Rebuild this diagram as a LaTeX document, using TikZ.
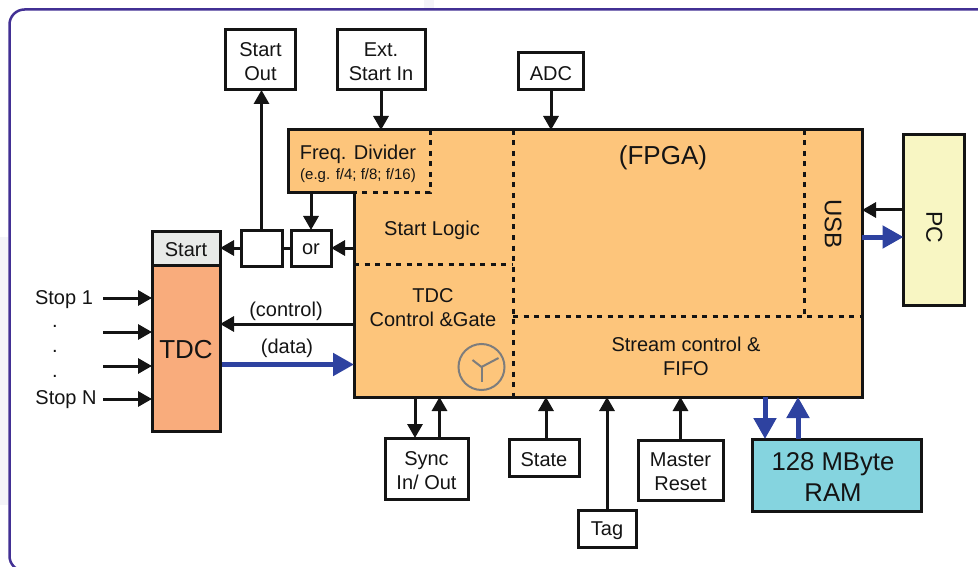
\documentclass[tikz,border=0pt]{standalone}
\usepackage{fontspec}
\setmainfont{Liberation Sans}
\usetikzlibrary{arrows.meta,calc}
\definecolor{frame}{RGB}{66,48,148}
\definecolor{fpgaor}{RGB}{253,197,123}
\definecolor{tdcor}{RGB}{249,172,124}
\definecolor{startgr}{RGB}{232,234,232}
\definecolor{ramcy}{RGB}{133,212,223}
\definecolor{pcye}{RGB}{248,246,195}
\definecolor{arrblue}{RGB}{46,66,160}
\definecolor{ink}{RGB}{20,20,20}
\definecolor{clockgr}{RGB}{125,125,125}
\definecolor{patch}{RGB}{244,244,248}
\newcommand{\fs}[1]{\fontsize{#1}{24}\selectfont}
\tikzset{
  box/.style={draw=ink,line width=3pt,fill=white,outer sep=0pt,inner sep=0pt},
  area/.style={inner sep=0pt,outer sep=0pt},
  lbl/.style={inner sep=0pt,outer sep=0pt,align=center,text=ink,font=\fs{20},yshift=-1.7pt},
  zone/.style={draw=ink,line width=3pt,dash pattern=on 5pt off 5.5pt},
  conn/.style={draw=ink,line width=3pt,-{Triangle[length=14pt,width=15pt]}},
  plain/.style={draw=ink,line width=3pt},
  bus/.style={draw=arrblue,line width=5pt,-{Triangle[length=21pt,width=22pt]}},
}
\begin{document}
\begin{tikzpicture}[x=1pt,y=-1pt]
\useasboundingbox (0,0) rectangle (978,567);
\fill[patch] (424,0) rectangle (434,9);
\fill[patch] (0,237) rectangle (8,505);
\begin{scope}
\clip (0,0) rectangle (978,567);
\draw[frame,line width=2.5pt,rounded corners=15pt] (9.5,9.5) rectangle (1010,571);
\end{scope}

% FPGA body
\draw[fill=fpgaor,draw=ink,line width=3pt,line join=miter]
  (288,130) -- (862,130) -- (862,397) -- (354,397) -- (354,193) -- (288,193) -- cycle;
\node[area,minimum width=508pt,minimum height=267pt] (fpga) at (608,263.5) {};
\node[area,minimum width=66pt,minimum height=63pt] (freqtab) at (321,161.5) {};

% dashed internal borders
\coordinate (d1t) at (430,130); \coordinate (d1b) at (430,193); \coordinate (d1l) at (354,193);
\coordinate (d2l) at (354,264); \coordinate (d2r) at (513,264);
\coordinate (d3t) at (513,130); \coordinate (d3b) at (513,397);
\coordinate (d4t) at (804,130); \coordinate (d4b) at (804,316);
\coordinate (d5l) at (513,316); \coordinate (d5r) at (862,316);
\draw[zone] (d1t) -- (d1b) -- (d1l);
\draw[zone] (d2l) -- (d2r);
\draw[zone] (d3t) -- (d3b);
\draw[zone] (d4t) -- (d4b);
\draw[zone] (d5l) -- (d5r);

% FPGA texts
\node[lbl] (freq) at (358,153) {Freq. Divider};
\node[lbl,font=\fs{15}] (freqsub) at (358,174) {(e.g. f/4; f/8; f/16)};
\node[lbl] (slogic) at (432,229) {Start Logic};
\node[lbl] (tdcctl) at (433,305.5) {TDC\\Control \&Gate};
\node[lbl,font=\fs{26}] (fpgatxt) at (663,156) {(FPGA)};
\node[lbl,rotate=-90,font=\fs{24},yshift=1.7pt] (usb) at (831.5,222) {USB};
\node[lbl] (stream) at (686,355) {Stream control \&\\FIFO};

% clock
\node[draw=clockgr,line width=2pt,circle,minimum size=46pt,inner sep=0pt,outer sep=0pt] (clock) at (481.5,367) {};
\draw[clockgr,line width=2pt] (clock.center) -- ++(-9,-7);
\draw[clockgr,line width=2pt] (clock.center) -- ++(17,-9);
\draw[clockgr,line width=2pt] (clock.center) -- ++(0,15);

% boxes
\node[box,minimum width=70pt,minimum height=60pt] (sout) at (260.5,60) {};
\node[lbl] (soutt) at (sout) {Start\\Out};
\node[box,minimum width=88pt,minimum height=60pt] (ext) at (381,60) {};
\node[lbl] (extt) at (ext) {Ext.\\Start In};
\node[box,minimum width=65pt,minimum height=37pt] (adc) at (551,71.5) {};
\node[lbl] (adct) at (adc) {ADC};
\node[box,minimum width=68pt,minimum height=166pt,fill=tdcor] (tdc) at (186,348) {};
\node[lbl,font=\fs{26}] (tdct) at (tdc) {TDC};
\node[box,minimum width=68pt,minimum height=34pt,fill=startgr] (start) at (186,248) {};
\node[lbl] (startt) at (start) {Start};
\node[box,minimum width=41pt,minimum height=36pt] (blank) at (261.5,248) {};
\node[box,minimum width=40pt,minimum height=36pt] (orb) at (311,248) {};
\node[lbl] (orbt) at (orb) {or};
\node[box,minimum width=83pt,minimum height=61pt] (sync) at (426.5,468.5) {};
\node[lbl] (synct) at (sync) {Sync\\In/ Out};
\node[box,minimum width=70pt,minimum height=37pt] (state) at (544,457.5) {};
\node[lbl] (statet) at (state) {State};
\node[box,minimum width=58pt,minimum height=37pt] (tag) at (607,528.5) {};
\node[lbl] (tagt) at (tag) {Tag};
\node[box,minimum width=85pt,minimum height=60pt] (reset) at (680.5,470) {};
\node[lbl] (resett) at (reset) {Master\\Reset};
\node[box,minimum width=169pt,minimum height=72pt,fill=ramcy] (ram) at (836.5,475) {};
\node[lbl,font=\fontsize{25.7}{31}\selectfont] (ramtxt) at (833,475) {128 MByte\\RAM};
\node[box,minimum width=61pt,minimum height=170pt,fill=pcye] (pc) at (934,220) {};
\node[lbl,rotate=-90,font=\fs{23},yshift=1.7pt] (pctxt) at (932.5,225.5) {PC};

% stops
\node[lbl] (s1) at (64,298) {Stop 1};
\node[lbl] (sn) at (66,398) {Stop N};
\node[lbl] (dot1) at (55,325) {.};
\node[lbl] (dot2) at (55,350) {.};
\node[lbl] (dot3) at (55,375) {.};
\coordinate (a1) at (103,298); \coordinate (a2) at (103,332);
\coordinate (a3) at (103,366); \coordinate (a4) at (103,399);

% connectors
\draw[conn] (ext.south) -- (ext.south |- fpga.north);
\draw[conn] (adc.south) -- (adc.south |- fpga.north);
\draw[conn] (blank.north) -- (blank.north |- sout.south);
\draw[conn] (blank.west) -- (start.east);
\draw[plain] (orb.west) -- (blank.east);
\draw[conn] (fpga.west |- orb.east) -- (orb.east);
\draw[conn] (orb.north |- freqtab.south) -- (orb.north);
\draw[conn] (a1) -- (a1 -| tdc.west);
\draw[conn] (a2) -- (a2 -| tdc.west);
\draw[conn] (a3) -- (a3 -| tdc.west);
\draw[conn] (a4) -- (a4 -| tdc.west);
\coordinate (cy) at (354,324); \coordinate (dy) at (354,364.5);
\draw[conn] (cy) -- (cy -| tdc.east);
\node[lbl] (ctl) at (286,310) {(control)};
\draw[bus] ($(dy -| tdc.east)+(2,0)$) -- (dy);
\node[lbl] (dat) at (287,347) {(data)};
\draw[conn] ([xshift=-11.5pt]sync.north |- fpga.south) -- ([xshift=-11.5pt]sync.north);
\draw[conn] ([xshift=13pt]sync.north) -- ([xshift=13pt]sync.north |- fpga.south);
\draw[conn] ([xshift=2pt]state.north) -- ([xshift=2pt]state.north |- fpga.south);
\draw[conn] (tag.north) -- (tag.north |- fpga.south);
\draw[conn] (reset.north) -- (reset.north |- fpga.south);
\coordinate (ramd) at (765,439); \coordinate (ramu) at (798,439);
\draw[bus] (ramd |- fpga.south) -- (ramd |- ram.north);
\draw[bus] (ramu |- ram.north) -- (ramu |- fpga.south);
\coordinate (pcb) at (903,210); \coordinate (pcd) at (903,237);
\draw[conn] (pcb -| pc.west) -- (pcb -| fpga.east);
\draw[bus] (pcd -| fpga.east) -- (pcd -| pc.west);
\end{tikzpicture}
\end{document}
